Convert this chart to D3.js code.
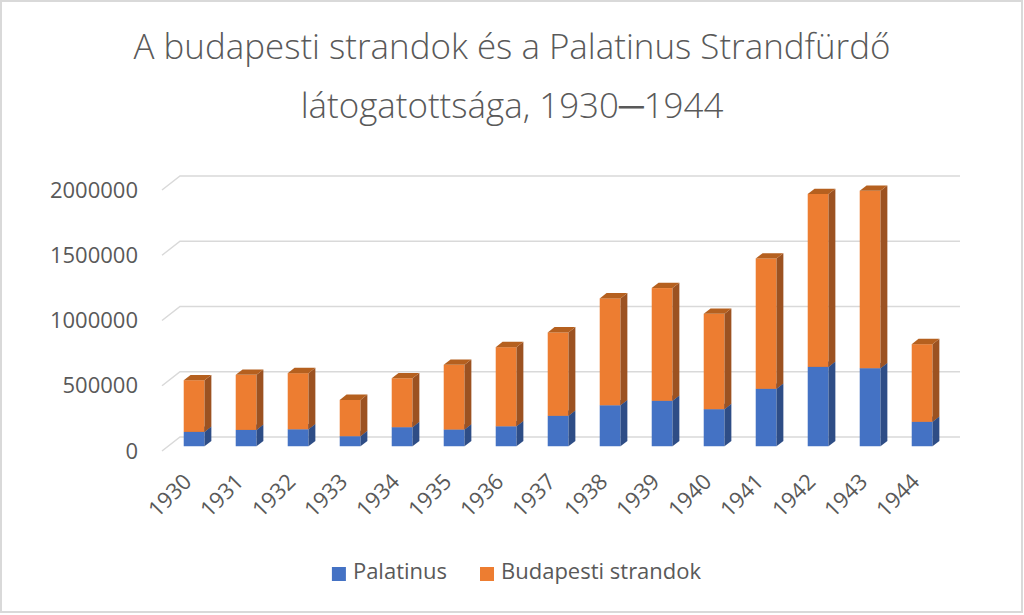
<!DOCTYPE html>
<html>
<head>
<meta charset="utf-8">
<script src="https://cdn.jsdelivr.net/npm/d3@7"></script>
<style>
  body { margin: 0; background: #fff; }
  svg { display: block; font-family: "Open Sans", sans-serif; }
</style>
</head>
<body>
<svg id="chart" width="1024" height="615"></svg>
<script>
const years = ["1930", "1931", "1932", "1933", "1934", "1935", "1936", "1937",
  "1938", "1939", "1940", "1941", "1942", "1943", "1944"];
const palatinus = [110000, 125000, 130000, 77000, 146000, 128000, 153000, 233000,
  314000, 348000, 284000, 440000, 608000, 598000, 187000];
const strandok = [396000, 422000, 430000, 278000, 375000, 496000, 606000, 639000,
  819000, 864000, 731000, 999000, 1325000, 1360000, 595000];
const seriesNames = ["Palatinus", "Budapesti strandok"];
const yTicks = [0, 500000, 1000000, 1500000, 2000000];
const titleLines = ["A budapesti strandok és a Palatinus Strandfürdő", "látogatottsága, 1930\u25001944"];

const colors = {
  Palatinus: { front: "#4472C4", side: "#2E4D86", top: "#3A62A8" },
  "Budapesti strandok": { front: "#ED7D31", side: "#9C5221", top: "#B5601F" }
};

const svg = d3.select("#chart");
const text = "#595959";

// border
svg.append("rect")
  .attr("x", 1).attr("y", 1).attr("width", 1021).attr("height", 611)
  .attr("fill", "none").attr("stroke", "#d9d9d9").attr("stroke-width", 2);

// title, fitted to the reference width
const title = svg.append("g").attr("fill", text).attr("text-anchor", "middle")
  .style("font-weight", 300);
const t1 = title.append("text").attr("x", 512).attr("y", 59).attr("font-size", 34).text(titleLines[0]);
const fitSize = 34 * 757 / t1.node().getComputedTextLength();
t1.attr("font-size", fitSize);
title.append("text").attr("x", 512).attr("y", 118).attr("font-size", fitSize).text(titleLines[1]);

// oblique depth of the wall
const DX = 18, DY = 14;
const barF0 = 0.34, barF1 = 0.72;

const x = d3.scaleBand().domain(years).range([162, 942]).paddingInner(0.6).paddingOuter(0.3);
const y = d3.scaleLinear().domain([0, 2000000]).range([451, 190]);

// grid
const grid = svg.append("g").attr("stroke", "#d9d9d9").attr("stroke-width", 1.5).attr("fill", "none");
yTicks.forEach(v => {
  const yy = y(v);
  grid.append("path").attr("d", `M162,${yy}L${162 + DX},${yy - DY}H960`);
});

// y axis labels
const yAxis = svg.append("g").attr("transform", "translate(138,0)")
  .call(d3.axisLeft(y).tickValues(yTicks).tickSize(0).tickPadding(0).tickFormat(d3.format("d")));
yAxis.select(".domain").remove();
yAxis.selectAll("text").attr("fill", text).attr("font-size", 22)
  .style("font-family", "Open Sans, sans-serif");

// bars
const table = years.map((yr, i) => ({ year: yr, Palatinus: palatinus[i], "Budapesti strandok": strandok[i] }));
const stacked = d3.stack().keys(seriesNames)(table);

const bx = barF0 * DX, by = barF0 * DY;
const sx = (barF1 - barF0) * DX, sy = (barF1 - barF0) * DY;
const bars = svg.append("g");
years.forEach((yr, i) => {
  stacked.forEach(layer => {
    const d = layer[i];
    const c = colors[layer.key];
    const x0 = x(yr) + bx, x1 = x0 + x.bandwidth();
    const y0 = y(d[0]) - by, y1 = y(d[1]) - by;
    const g = bars.append("g");
    g.append("rect").attr("x", x0).attr("y", y1).attr("width", x1 - x0).attr("height", y0 - y1)
      .attr("fill", c.front);
    g.append("path").attr("fill", c.side)
      .attr("d", `M${x1},${y0}L${x1 + sx},${y0 - sy}L${x1 + sx},${y1 - sy}L${x1},${y1}Z`);
    g.append("path").attr("fill", c.top)
      .attr("d", `M${x0},${y1}L${x0 + sx},${y1 - sy}L${x1 + sx},${y1 - sy}L${x1},${y1}Z`);
  });
});

// x labels
svg.append("g").selectAll("text").data(years).join("text")
  .attr("transform", d => `translate(${x(d) + x.bandwidth() / 2 + 5},483) rotate(-45)`)
  .attr("text-anchor", "end").attr("fill", text).attr("font-size", 22)
  .text(d => d);

// legend
const legend = svg.append("g").attr("transform", "translate(0,579)");
let lx = 0;
const items = [];
seriesNames.forEach((name, i) => {
  const g = legend.append("g").attr("transform", `translate(${lx},0)`);
  g.append("rect").attr("x", 0).attr("y", -12).attr("width", 14).attr("height", 14)
    .attr("fill", colors[name].front);
  const t = g.append("text").attr("x", 21).attr("fill", text).attr("font-size", 22).text(name);
  lx += 21 + t.node().getComputedTextLength() + 33;
  items.push(g);
});
const legendWidth = lx - 33;
legend.attr("transform", `translate(${516.5 - legendWidth / 2},579)`);
</script>
</body>
</html>
